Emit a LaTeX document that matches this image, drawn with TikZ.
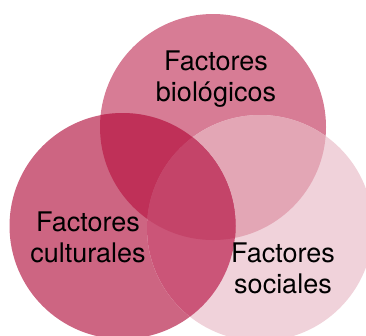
\documentclass[tikz,border=0pt]{standalone}
\usepackage{fontspec}
\setmainfont{TeX Gyre Heros}
\definecolor{topc}{HTML}{D77C95}
\definecolor{leftc}{HTML}{CD6582}
\definecolor{rightc}{HTML}{F0D2DA}
\definecolor{tr}{HTML}{E3A6B5}
\definecolor{tl}{HTML}{BF3058}
\definecolor{lr}{HTML}{CB5578}
\definecolor{tlr}{HTML}{C44469}
\tikzset{lbl/.style={align=center,font=\fontsize{27}{31}\selectfont,text=black,inner sep=0pt}}
\begin{document}
\begin{tikzpicture}[x=1pt,y=-1pt]
\useasboundingbox (0,0) rectangle (366,335);
\clip (0,0) rectangle (366,335);
\def\R{113}
\coordinate (T) at (213,127);
\coordinate (L) at (122.5,226);
\coordinate (S) at (260,228);
\fill[topc] (T) circle (\R);
\fill[leftc] (L) circle (\R);
\fill[rightc] (S) circle (\R);
\begin{scope}
\clip (T) circle (\R);
\fill[tr] (S) circle (\R);
\fill[tl] (L) circle (\R);
\end{scope}
\begin{scope}
\clip (L) circle (\R);
\fill[lr] (S) circle (\R);
\end{scope}
\begin{scope}
\clip (T) circle (\R);
\clip (L) circle (\R);
\fill[tlr] (S) circle (\R);
\end{scope}
\node[lbl] (bio) at (216,79) {Factores\\biológicos};
\node[lbl] (cul) at (88,237) {Factores\\culturales};
\node[lbl] (soc) at (283,268) {Factores\\sociales};
\end{tikzpicture}
\end{document}
